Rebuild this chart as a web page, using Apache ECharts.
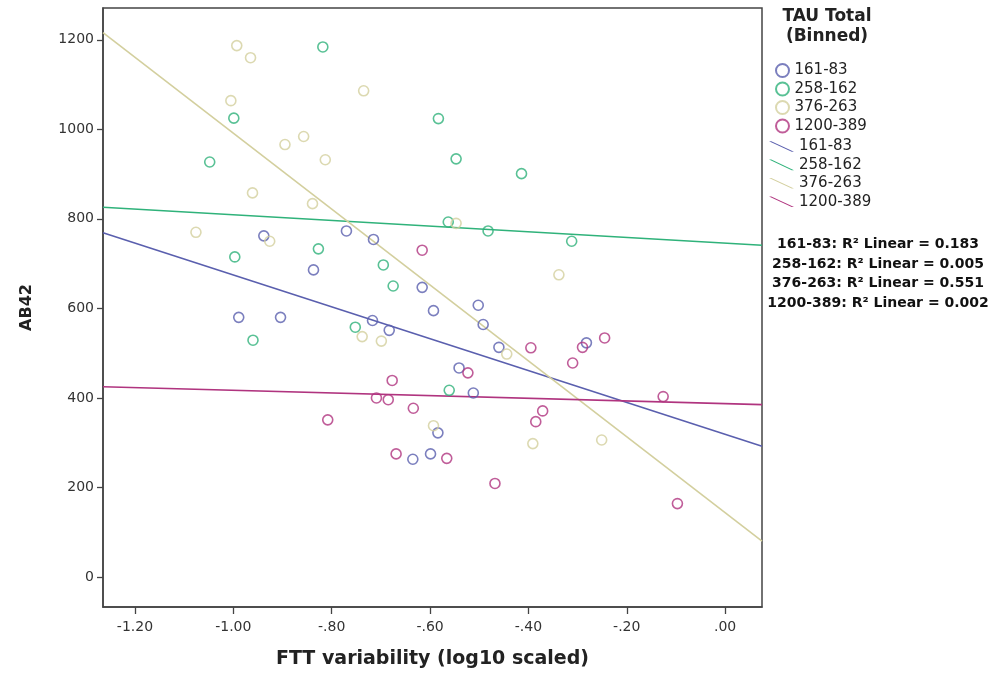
<!DOCTYPE html>
<html>
<head>
<meta charset="utf-8">
<script src="https://cdn.jsdelivr.net/npm/echarts@6/dist/echarts.min.js"></script>
<style>
  html, body { margin: 0; padding: 0; background: #fff; }
  #chart { width: 998px; height: 675px; }
</style>
</head>
<body>
<div id="chart"></div>
<script>
  // values
  const groups = ["161-83", "258-162", "376-263", "1200-389"];
  const colors = ["#5a5fae", "#2fb27a", "#d3cf9e", "#b0347f"];

  const blueX = [-0.938, -0.770, -0.715, -0.837, -0.616, -0.593, -0.989, -0.904, -0.717, -0.683, -0.584, -0.635, -0.599, -0.502, -0.492, -0.460, -0.282, -0.541, -0.512];
  const blueY = [762, 773, 754, 686, 647, 595, 580, 580, 573, 551, 322, 263, 275, 607, 564, 513, 523, 467, 411];

  const greenX = [-0.818, -0.999, -1.048, -0.583, -0.827, -0.997, -0.695, -0.675, -0.547, -0.414, -0.563, -0.482, -0.312, -0.752, -0.960, -0.561];
  const greenY = [1184, 1025, 927, 1024, 733, 715, 697, 650, 934, 901, 793, 773, 750, 558, 529, 417];

  const khakiX = [-0.993, -0.965, -1.005, -0.735, -0.895, -0.857, -0.813, -0.961, -0.839, -1.076, -0.926, -0.547, -0.338, -0.738, -0.699, -0.593, -0.444, -0.391, -0.251];
  const khakiY = [1187, 1160, 1064, 1086, 966, 984, 932, 858, 834, 770, 750, 790, 675, 537, 527, 338, 498, 298, 306];

  const magentaX = [-0.616, -0.677, -0.709, -0.685, -0.634, -0.808, -0.669, -0.395, -0.290, -0.245, -0.310, -0.523, -0.126, -0.371, -0.385, -0.566, -0.468, -0.097];
  const magentaY = [730, 439, 400, 396, 377, 351, 275, 512, 513, 534, 478, 456, 403, 371, 347, 265, 209, 164];

  // fit line end points (left and right edge of the plot)
  const fitX = [-1.265, 0.075];
  const fitBlue = [769, 292];
  const fitGreen = [826, 741];
  const fitKhaki = [1216, 80];
  const fitMagenta = [425, 385];

  const xTicks = [-1.2, -1.0, -0.8, -0.6, -0.4, -0.2, 0];
  const yTicks = [0, 200, 400, 600, 800, 1000, 1200];
  const r2Labels = [
    "161-83: R² Linear = 0.183",
    "258-162: R² Linear = 0.005",
    "376-263: R² Linear = 0.551",
    "1200-389: R² Linear = 0.002"
  ];

  const pointSets = [[blueX, blueY], [greenX, greenY], [khakiX, khakiY], [magentaX, magentaY]];
  const fitSets = [fitBlue, fitGreen, fitKhaki, fitMagenta];
  const FONT = "DejaVu Sans, Liberation Sans, Arial, sans-serif";

  function zip(xs, ys) {
    return xs.map((x, i) => [x, ys[i]]);
  }

  function fmtX(v) {
    let s = Math.abs(v).toFixed(2);
    if (s.startsWith("0")) s = s.slice(1);
    return (v < -1e-9 ? "-" : "") + s;
  }

  let chart = echarts.init(document.getElementById("chart"));

  let series = [];
  groups.forEach((g, i) => {
    series.push({
      name: g,
      type: "scatter",
      symbol: "circle",
      symbolSize: 10,
      itemStyle: { color: "rgba(255,255,255,0)", borderColor: colors[i], borderWidth: 1.6 },
      data: zip(pointSets[i][0], pointSets[i][1]),
      z: 3
    });
  });
  groups.forEach((g, i) => {
    series.push({
      name: "fit " + g,
      type: "line",
      showSymbol: false,
      symbol: "none",
      color: colors[i],
      lineStyle: { color: colors[i], width: 1.6 },
      data: zip(fitX, fitSets[i]),
      z: 2
    });
  });

  const lineIcon = "path://M0,0 L2.4,0 L26,11 L23.6,11 Z";

  let option = {
    animation: false,
    textStyle: { fontFamily: FONT },
    grid: {
      left: 103,
      right: 236,
      top: 8,
      bottom: 68,
      show: true,
      borderColor: "#444",
      borderWidth: 1.5
    },
    legend: [
      {
        data: groups,
        orient: "vertical",
        left: 770,
        top: 58,
        itemWidth: 14,
        itemHeight: 13,
        itemGap: 3.5,
        textStyle: { fontSize: 15, color: "#222" }
      },
      {
        data: groups.map(g => "fit " + g),
        formatter: name => name.replace("fit ", ""),
        orient: "vertical",
        left: 764,
        top: 134,
        icon: lineIcon,
        itemWidth: 25,
        itemHeight: 11,
        itemGap: 3.4,
        textStyle: { fontSize: 15, color: "#222" }
      }
    ],
    graphic: [
      {
        type: "text",
        style: {
          x: 827,
          y: 7,
          text: "TAU Total\n(Binned)",
          align: "center",
          verticalAlign: "top",
          font: "bold 17px " + FONT,
          fill: "#222",
          lineHeight: 20
        }
      },
      {
        type: "text",
        style: {
          x: 878,
          y: 235,
          text: r2Labels.join("\n"),
          align: "center",
          verticalAlign: "top",
          font: "bold 14px " + FONT,
          fill: "#111",
          lineHeight: 19.5
        }
      }
    ],
    xAxis: {
      type: "value",
      min: -1.265,
      max: 0.075,
      name: "FTT variability (log10 scaled)",
      nameLocation: "middle",
      nameGap: 43,
      nameTextStyle: { fontSize: 19, fontWeight: "bold", color: "#222" },
      splitLine: { show: false },
      axisLine: { show: true, onZero: false, lineStyle: { color: "#444", width: 1.5 } },
      axisTick: { show: true, customValues: xTicks, length: 7, lineStyle: { color: "#444", width: 1.3 } },
      axisLabel: { customValues: xTicks, formatter: fmtX, fontSize: 14, color: "#333", margin: 13 }
    },
    yAxis: {
      type: "value",
      min: -67,
      max: 1271,
      name: "AB42",
      nameLocation: "middle",
      nameGap: 68,
      nameRotate: 90,
      nameTextStyle: { fontSize: 16, fontWeight: "bold", color: "#222" },
      splitLine: { show: false },
      axisLine: { show: true, onZero: false, lineStyle: { color: "#444", width: 1.5 } },
      axisTick: { show: true, customValues: yTicks, length: 6, lineStyle: { color: "#444", width: 1.3 } },
      axisLabel: { customValues: yTicks, formatter: v => String(v), fontSize: 14, color: "#333", margin: 9 }
    },
    series: series
  };

  chart.setOption(option);
  window.addEventListener("resize", () => {
    chart.resize();
  });
</script>
</body>
</html>
